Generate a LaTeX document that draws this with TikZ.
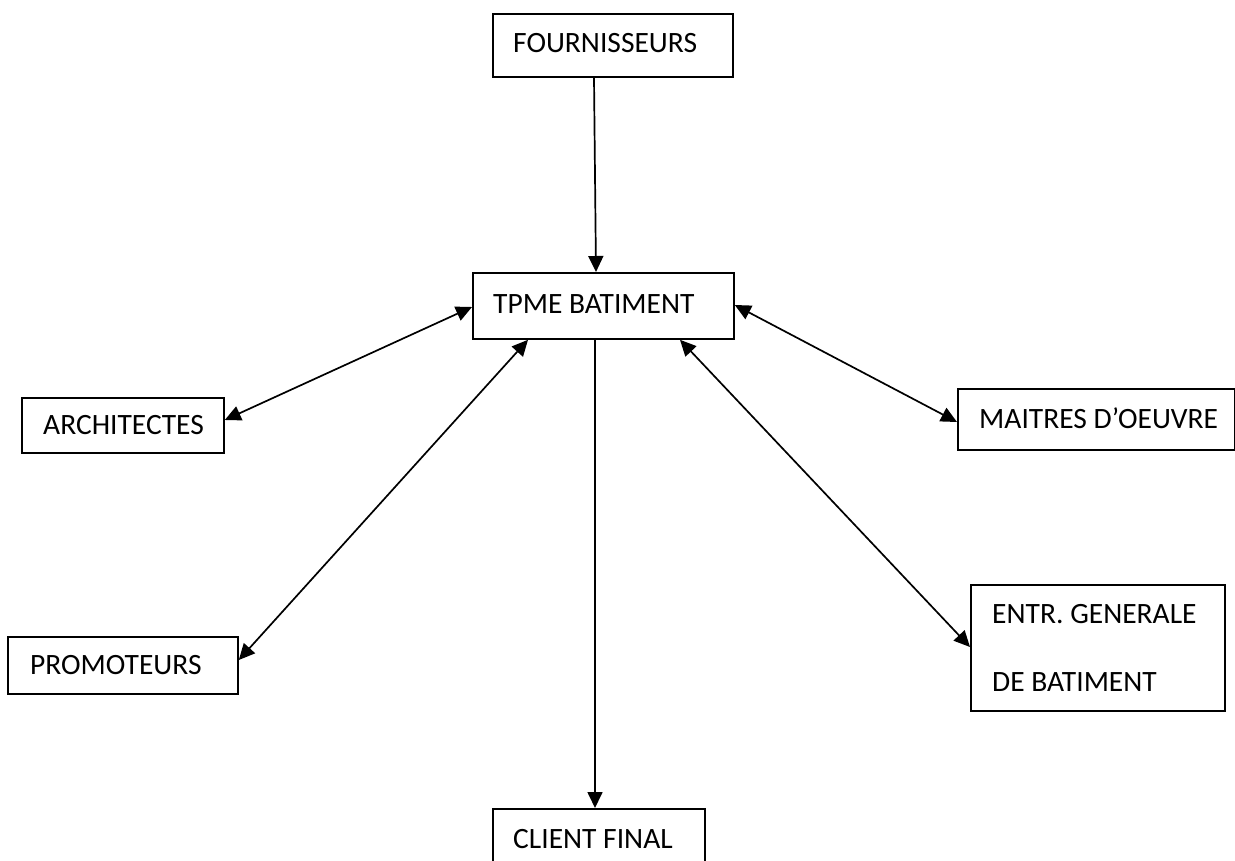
\documentclass[tikz,border=0pt]{standalone}
\usepackage{fontspec}
\setmainfont{Carlito}
\usetikzlibrary{arrows.meta}
\begin{document}
\begin{tikzpicture}[x=1pt,y=-1pt,
  box/.style={draw, line width=1.8pt, inner sep=0pt, anchor=north west},
  txt/.style={inner sep=0pt, anchor=west, text height=19pt, text depth=0pt,
    font=\fontsize{29.5}{35}\selectfont},
  txtb/.style={inner sep=0pt, anchor=base west, font=\fontsize{29.5}{35}\selectfont},
  arr/.style={line width=1.7pt, -{Triangle[length=16pt,width=15pt]}},
  darr/.style={line width=1.7pt, {Triangle[length=16pt,width=15pt]}-{Triangle[length=16pt,width=15pt]}}]
\useasboundingbox (0,0) rectangle (1235,861);
\node[box, minimum width=240pt, minimum height=63pt] (four) at (492,13) {};
\node[txt] (fourt) at ([xshift=21pt,yshift=2pt]four.west) {FOURNISSEURS};
\node[box, minimum width=261pt, minimum height=66pt] (tpme) at (472,272) {};
\node[txt] (tpmet) at ([xshift=21pt,yshift=2pt]tpme.west) {TPME BATIMENT};
\node[box, minimum width=202pt, minimum height=55pt] (arch) at (21,397) {};
\node[txt] (archt) at ([xshift=22pt]arch.west) {ARCHITECTES};
\node[box, minimum width=277pt, minimum height=61pt] (maitres) at (957,388) {};
\node[txt] (maitrest) at ([xshift=22pt]maitres.west) {MAITRES D’OEUVRE};
\node[box, minimum width=230pt, minimum height=57pt] (promo) at (7,636) {};
\node[txt] (promot) at ([xshift=23pt]promo.west) {PROMOTEURS};
\node[box, minimum width=254pt, minimum height=126pt] (entr) at (970,584) {};
\node[txtb] (entrt1) at ([xshift=22pt,yshift=-39pt]entr.north west) {ENTR. GENERALE};
\node[txtb] (entrt2) at ([xshift=22pt,yshift=-107pt]entr.north west) {DE BATIMENT};
\node[box, minimum width=212pt, minimum height=60pt] (client) at (492,808) {};
\node[txt] (clientt) at ([xshift=21pt]client.west) {CLIENT FINAL};
\draw[arr] ([xshift=102pt]four.south west) -- ([xshift=124pt]tpme.north west);
\draw[arr] ([xshift=123pt]tpme.south west) -- ([xshift=103pt]client.north west);
\draw[darr] ([yshift=-35pt]tpme.north west) -- ([yshift=-23pt]arch.north east);
\draw[darr] ([xshift=56pt]tpme.south west) -- ([yshift=-24pt]promo.north east);
\draw[darr] ([yshift=-33pt]tpme.north east) -- ([yshift=-34pt]maitres.north west);
\draw[darr] ([xshift=208pt]tpme.south west) -- ([yshift=-63pt]entr.north west);
\end{tikzpicture}
\end{document}
